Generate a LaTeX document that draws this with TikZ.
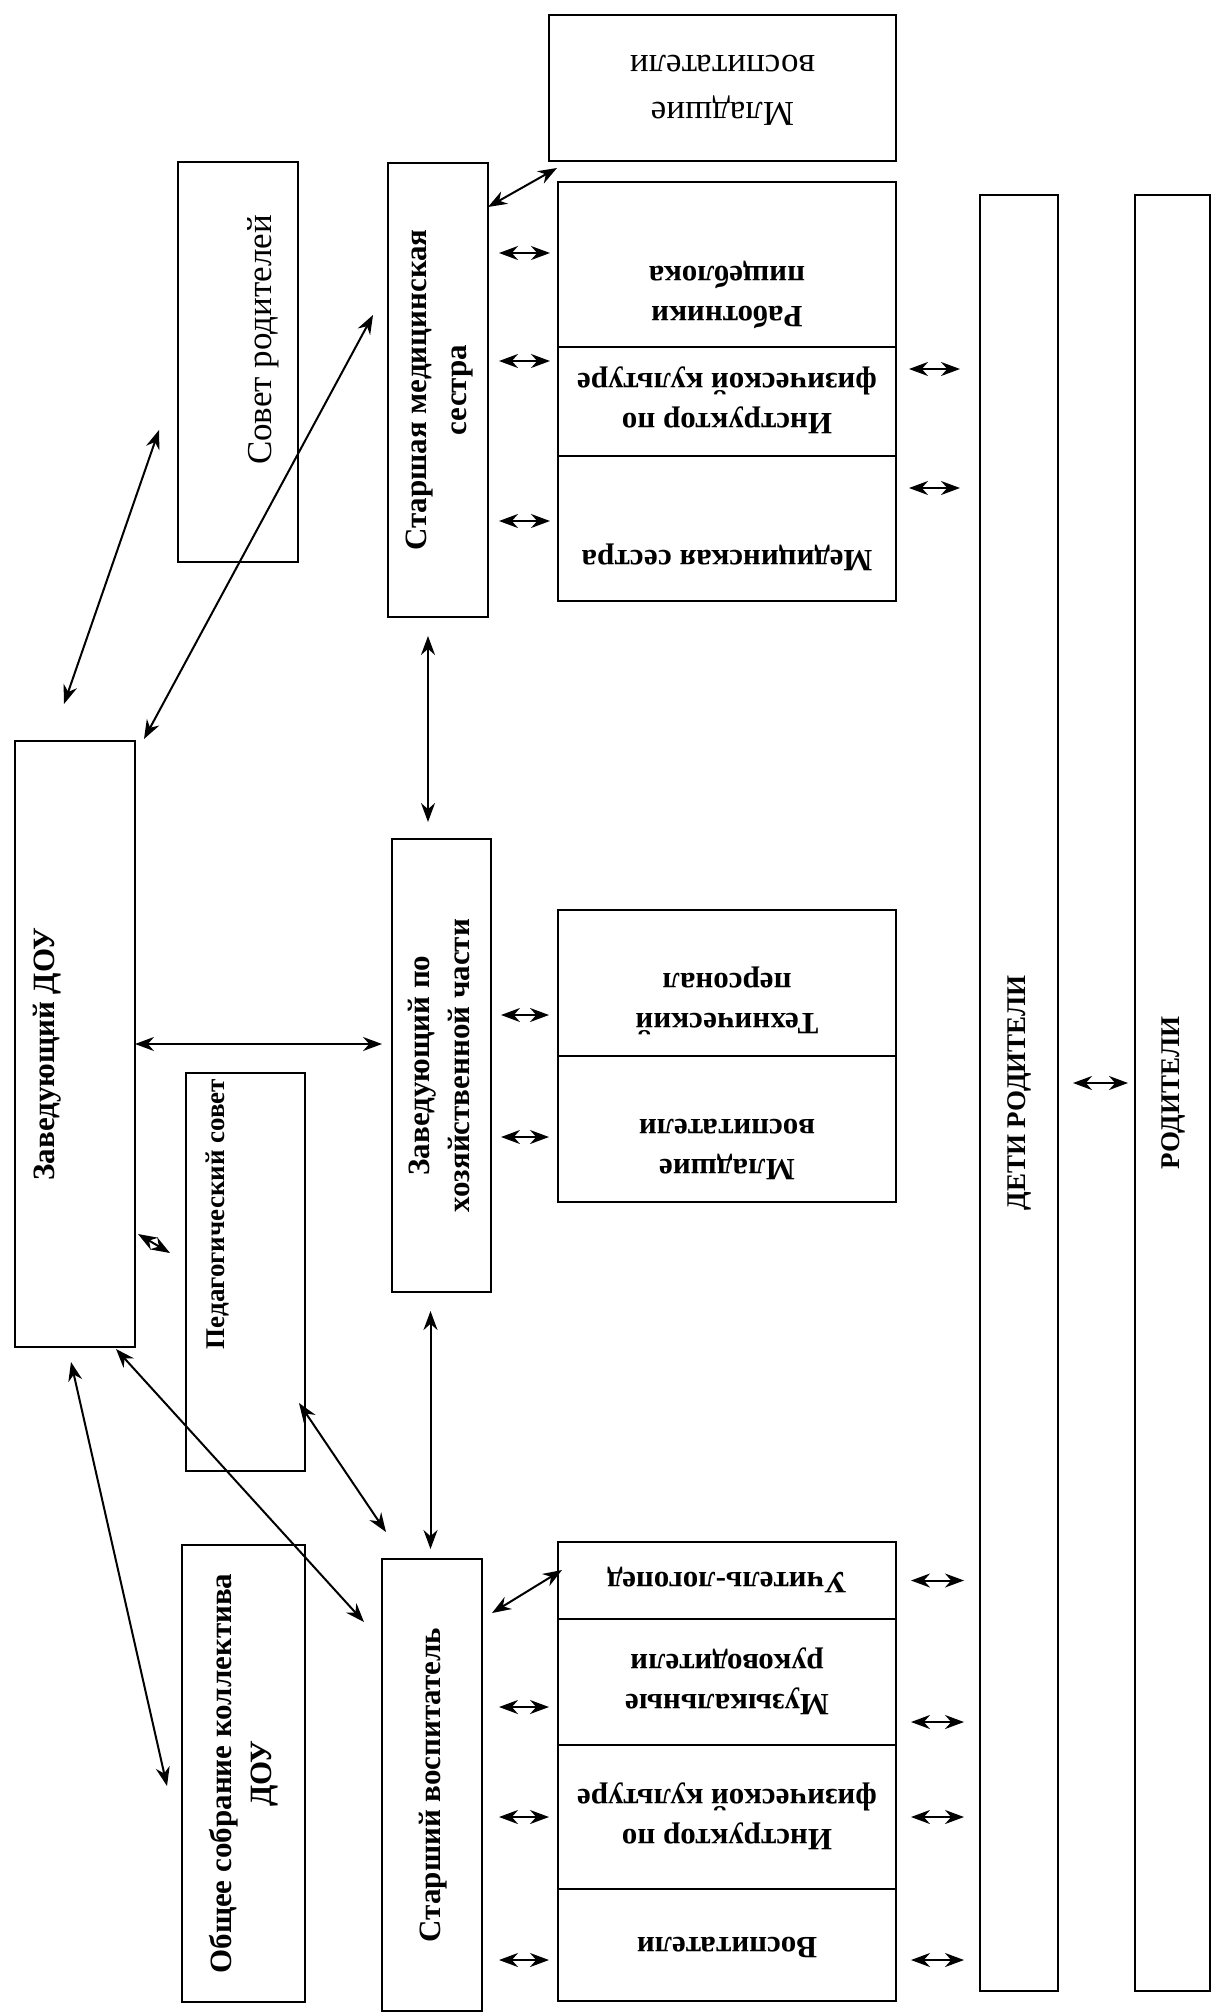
\documentclass[tikz,border=0pt]{standalone}
\usepackage{fontspec}
\setmainfont{Liberation Serif}
\usepackage{graphicx}
\usetikzlibrary{arrows.meta, positioning}
\tikzstyle{process} = [rectangle, draw=black, line width=2pt, outer sep=0pt, inner sep=0pt, text centered]
\tikzstyle{arrow} = [line width=2pt, <->, >={Stealth[length=19pt, width=14pt]}]
\newcommand{\uptext}[1]{\rotatebox{90}{\begin{tabular}{@{}c@{}}#1\end{tabular}}}
\newcommand{\downtext}[1]{\rotatebox{180}{\begin{tabular}{@{}c@{}}#1\end{tabular}}}
\tikzset{
  font={\fontsize{31pt}{40pt}\selectfont\bfseries}}

\begin{document}
\begin{tikzpicture}[x=1pt, y=-1pt]
    \useasboundingbox (0,0) rectangle (1217,2014);

    % left column
    \node (sovetrod) [process, minimum width=120pt, minimum height=400pt, label={[xshift=25pt, yshift=22pt, font=\fontsize{35pt}{44pt}\selectfont\mdseries]center:\uptext{Совет родителей}}] at (238,362) {};
    \node (zavdou) [process, minimum width=120pt, minimum height=606pt, label={[xshift=-28pt, yshift=-10pt]center:\uptext{Заведующий ДОУ}}] at (75,1044) {};
    \node (pedsovet) [process, minimum width=119pt, minimum height=398pt, label={[xshift=-28pt, yshift=58pt, font=\fontsize{27pt}{34pt}\selectfont\bfseries]center:\uptext{Педагогический совет}}] at (245.5,1272) {};
    \node (sobranie) [process, minimum width=123pt, minimum height=457pt] at (243.5,1773.5) {\uptext{Общее собрание коллектива\\ДОУ}};

    % middle column
    \node (starmed) [process, minimum width=100pt, minimum height=454pt] at (438,390) {\uptext{Старшая медицинская\\сестра}};
    \node (zavhoz) [process, minimum width=99pt, minimum height=453pt] at (441.5,1065.5) {\uptext{Заведующий по\\хозяйственной части}};
    \node (starvos) [process, minimum width=100pt, minimum height=452pt] at (432,1785) {\uptext{Старший воспитатель}};

    % right stacks
    \node (mladtop) [process, minimum width=347pt, minimum height=146pt, font=\fontsize{35pt}{47pt}\selectfont\mdseries] at (722.5,88) {\downtext{Младшие\\воспитатели}};
    \node (rabotniki) [process, minimum width=338pt, minimum height=165pt, label={[yshift=-30pt]center:\downtext{Работники\\пищеблока}}] at (727,264.5) {};
    \node (instrmed) [process, minimum width=338pt, minimum height=109pt, below=0pt of rabotniki] {\downtext{Инструктор по\\физической культуре}};
    \node (medsestra) [process, minimum width=338pt, minimum height=145pt, below=0pt of instrmed, label={[yshift=-30pt]center:\downtext{Медицинская сестра}}] {};

    \node (techpers) [process, minimum width=338pt, minimum height=146pt, label={[yshift=-18pt]center:\downtext{Технический\\персонал}}] at (727,983) {};
    \node (mladvos) [process, minimum width=338pt, minimum height=146pt, below=0pt of techpers, label={[yshift=-18pt]center:\downtext{Младшие\\воспитатели}}] {};

    \node (logoped) [process, minimum width=338pt, minimum height=77pt] at (727,1580.5) {\downtext{Учитель-логопед}};
    \node (muzruk) [process, minimum width=338pt, minimum height=126pt, below=0pt of logoped] {\downtext{Музыкальные\\руководители}};
    \node (instrfiz) [process, minimum width=338pt, minimum height=144pt, below=0pt of muzruk] {\downtext{Инструктор по\\физической культуре}};
    \node (vospit) [process, minimum width=338pt, minimum height=112pt, below=0pt of instrfiz] {\downtext{Воспитатели}};

    % parents
    \node (deti) [process, minimum width=78pt, minimum height=1796pt, font=\fontsize{27pt}{34pt}\selectfont\bfseries] at (1019,1093) {\uptext{ДЕТИ РОДИТЕЛИ}};
    \node (roditeli) [process, minimum width=75pt, minimum height=1796pt, font=\fontsize{27pt}{34pt}\selectfont\bfseries] at (1172.5,1093) {\uptext{РОДИТЕЛИ}};

    \coordinate (c1) at (64,704);
    \coordinate (c2) at (159,430);
    \coordinate (c3) at (144,739);
    \coordinate (c4) at (373,315);
    \coordinate (c5) at (71,1362);
    \coordinate (c6) at (167,1786);
    \coordinate (c7) at (116,1349);
    \coordinate (c8) at (364,1622);
    \coordinate (c9) at (299,1403);
    \coordinate (c10) at (386,1532);
    \coordinate (c11) at (488,207);
    \coordinate (c12) at (557,168);
    \coordinate (c13) at (492,1613);
    \coordinate (c14) at (562,1570);
    \coordinate (c15) at (170,1253);
    \coordinate (c16) at (138,1234);

    \draw [arrow] (c1) -- (c2);
    \draw [arrow] (c3) -- (c4);
    \draw [arrow, shorten >=10pt] (zavdou.east) -- (zavdou.east -| zavhoz.west);
    \draw [arrow] (c15) -- (c16);
    \draw [arrow] (c5) -- (c6);
    \draw [arrow] (c7) -- (c8);
    \draw [arrow] (c9) -- (c10);
    \draw [arrow, shorten <=19pt, shorten >=17pt] ([xshift=-10pt]starmed.south) -- ([xshift=-10pt]starmed.south |- zavhoz.north);
    \draw [arrow, shorten <=19pt, shorten >=10pt] ([xshift=-11pt]zavhoz.south) -- ([xshift=-11pt]zavhoz.south |- starvos.north);
    \draw [arrow] (c11) -- (c12);
    \draw [arrow] (c13) -- (c14);

    \draw [arrow] ([xshift=11pt, yshift=11.5pt]starmed.east |- rabotniki.west) -- ([xshift=-8pt, yshift=11.5pt]rabotniki.west);
    \draw [arrow] ([xshift=11pt, yshift=40.5pt]starmed.east |- instrmed.west) -- ([xshift=-8pt, yshift=40.5pt]instrmed.west);
    \draw [arrow] ([xshift=11pt, yshift=7.5pt]starmed.east |- medsestra.west) -- ([xshift=-8pt, yshift=7.5pt]medsestra.west);
    \draw [arrow] ([xshift=13pt, yshift=32.5pt]instrmed.east) -- ([xshift=-20pt, yshift=32.5pt]deti.west |- instrmed.east);
    \draw [arrow] ([xshift=13pt, yshift=40.5pt]medsestra.east) -- ([xshift=-20pt, yshift=40.5pt]deti.west |- medsestra.east);

    \draw [arrow] ([xshift=10pt, yshift=-32pt]zavhoz.east |- techpers.west) -- ([xshift=-9pt, yshift=-32pt]techpers.west);
    \draw [arrow] ([xshift=10pt, yshift=-8pt]zavhoz.east |- mladvos.west) -- ([xshift=-9pt, yshift=-8pt]mladvos.west);

    \draw [arrow] ([xshift=17pt, yshift=-25pt]starvos.east |- muzruk.west) -- ([xshift=-9pt, yshift=-25pt]muzruk.west);
    \draw [arrow] ([xshift=17pt]starvos.east |- instrfiz.west) -- ([xshift=-9pt]instrfiz.west);
    \draw [arrow] ([xshift=17pt, yshift=-15pt]starvos.east |- vospit.west) -- ([xshift=-9pt, yshift=-15pt]vospit.west);
    \draw [arrow] ([xshift=15pt]logoped.east) -- ([xshift=-16pt]deti.west |- logoped.east);
    \draw [arrow] ([xshift=15pt, yshift=-40pt]muzruk.east) -- ([xshift=-16pt, yshift=-40pt]deti.west |- muzruk.east);
    \draw [arrow] ([xshift=15pt]instrfiz.east) -- ([xshift=-16pt]deti.west |- instrfiz.east);
    \draw [arrow] ([xshift=15pt, yshift=-15pt]vospit.east) -- ([xshift=-16pt, yshift=-15pt]deti.west |- vospit.east);

    \draw [arrow] ([xshift=15pt, yshift=10pt]deti.east) -- ([xshift=-7pt, yshift=10pt]roditeli.west);
\end{tikzpicture}
\end{document}
